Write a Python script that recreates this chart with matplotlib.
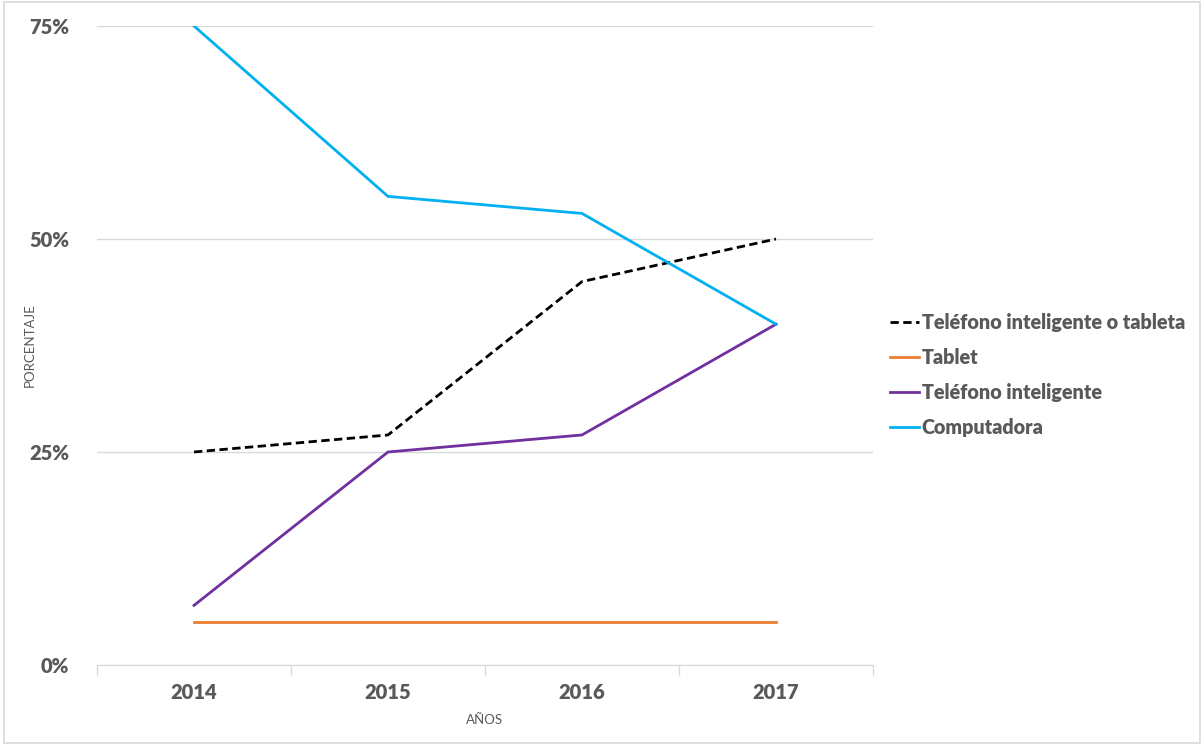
import matplotlib.pyplot as plt
from matplotlib.patches import Rectangle
from matplotlib.ticker import FixedLocator, NullFormatter

plt.rcParams['font.family'] = ['Lato', 'DejaVu Sans']

years = ["2014", "2015", "2016", "2017"]
phone_or_tablet = [25, 27, 45, 50]
tablet = [5, 5, 5, 5]
smartphone = [7, 25, 27, 40]
computer = [75, 55, 53, 40]

gray = "#595959"
grid = "#d9d9d9"

fig = plt.figure(figsize=(12.04, 7.45), dpi=100)
ax = fig.add_axes([97/1204, 1 - 665/745, 776/1204, 639/745])

x = list(range(len(years)))
ax.plot(x, phone_or_tablet, color="black", lw=2, ls=(0, (3, 1.6)), label="Teléfono inteligente o tableta")
ax.plot(x, tablet, color="#ED7D31", lw=2, label="Tablet")
ax.plot(x, smartphone, color="#7030A0", lw=2, label="Teléfono inteligente")
ax.plot(x, computer, color="#00B0F0", lw=2, label="Computadora")

ax.set_xlim(-0.5, 3.5)
ax.set_ylim(0, 75)
ax.set_yticks([0, 25, 50, 75])
ax.set_yticklabels(["0%", "25%", "50%", "75%"])
ax.yaxis.grid(True, color=grid, lw=1)
ax.set_axisbelow(True)
ax.tick_params(axis="y", length=0, pad=20, labelsize=14.5, labelcolor=gray)

ax.set_xticks(x)
ax.set_xticklabels(years)
ax.xaxis.set_minor_locator(FixedLocator([-0.5, 0.5, 1.5, 2.5, 3.5]))
ax.xaxis.set_minor_formatter(NullFormatter())
ax.tick_params(axis="x", which="major", length=0, pad=13, labelsize=14.5, labelcolor=gray)
ax.tick_params(axis="x", which="minor", length=7, color=grid, width=1)
for lab in ax.get_xticklabels() + ax.get_yticklabels():
    lab.set_fontweight("heavy")

for s in ["top", "right", "left"]:
    ax.spines[s].set_visible(False)
ax.spines["bottom"].set_color(grid)

fig.text(30/1204, 1 - 345/745, "PORCENTAJE", rotation=90, ha="center", va="center", fontsize=9.5, color=gray)
fig.text(485/1204, 1 - 720/745, "AÑOS", ha="center", va="center", fontsize=9.5, color=gray)

leg = fig.legend(loc="center left", bbox_to_anchor=(872/1204, 1 - 375/745), frameon=False,
                 fontsize=14.2, handlelength=1.5, handletextpad=0.12, labelspacing=0.8)
for t in leg.get_texts():
    t.set_color(gray)
    t.set_fontweight("heavy")

fig.patches.append(Rectangle((0.003, 0.003), 0.994, 0.994, transform=fig.transFigure,
                             fill=False, edgecolor=grid, lw=1.2))

fig.savefig("out.png", dpi=100)
